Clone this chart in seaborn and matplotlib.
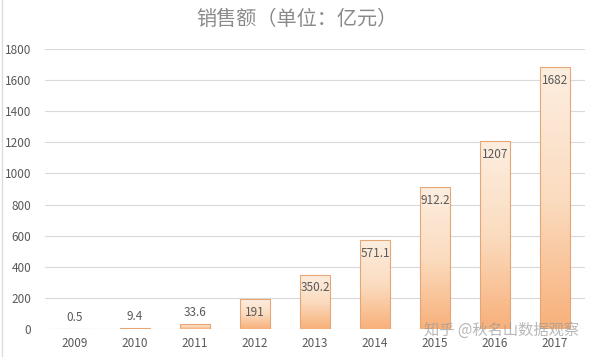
import numpy as np
import pandas as pd
import matplotlib
matplotlib.use("Agg")
import matplotlib.pyplot as plt
import seaborn as sns
from matplotlib.colors import LinearSegmentedColormap
from matplotlib.lines import Line2D

years = ["2009", "2010", "2011", "2012", "2013", "2014", "2015", "2016", "2017"]
sales = [0.5, 9.4, 33.6, 191, 350.2, 571.1, 912.2, 1207, 1682]
label_texts = ["0.5", "9.4", "33.6", "191", "350.2", "571.1", "912.2", "1207", "1682"]
y_ticks = [0, 200, 400, 600, 800, 1000, 1200, 1400, 1600, 1800]
title = "销售额（单位：亿元）"
watermark = "知乎 @秋名山数据观察"

sns.set_theme(style="white")
plt.rcParams['font.family'] = ['Noto Sans CJK SC', 'DejaVu Sans']

df = pd.DataFrame({"year": years, "sales": sales})

fig = plt.figure(figsize=(5.94, 3.57), dpi=100)
ax = fig.add_axes([0.0758, 0.0784, 0.9092, 0.7843])

sns.barplot(data=df, x="year", y="sales", ax=ax, width=0.5,
            color="#F9C08F", edgecolor="#E6A574", linewidth=0.8, zorder=3)

ax.set_ylim(0, 1800)
ax.set_yticks(y_ticks)
ax.set_xlim(-0.5, len(years) - 0.5)
ax.yaxis.grid(True, color="#D9D9D9", linewidth=0.8, zorder=0)
ax.xaxis.grid(False)
for s in ax.spines.values():
    s.set_visible(False)
ax.set_xlabel("")
ax.set_ylabel("")
ax.tick_params(axis="y", length=0, pad=10, labelsize=8.5, labelcolor="#595959")
ax.tick_params(axis="x", length=0, pad=6, labelsize=8.5, labelcolor="#595959")

# gradient fill per bar
cmap = LinearSegmentedColormap.from_list("grad", ["#FDEEE0", "#FBDCC0", "#F8B07A"])
grad = np.linspace(0, 1, 256).reshape(-1, 1)
for p in ax.patches:
    x0, y0 = p.get_x(), p.get_y()
    w, h = p.get_width(), p.get_height()
    if h <= 0:
        continue
    p.set_facecolor("none")
    im = ax.imshow(grad, cmap=cmap, aspect="auto", origin="upper",
                   extent=[x0, x0 + w, y0, y0 + h], zorder=2.5,
                   interpolation="bicubic")
    im.set_clip_path(p)

ax.set_xlim(-0.5, len(years) - 0.5)
ax.set_ylim(0, 1800)

# labels
for p, txt in zip(ax.patches, label_texts):
    cx = p.get_x() + p.get_width() / 2
    top = p.get_height()
    if top < 150:
        ax.annotate(txt, (cx, top), xytext=(0, 8), textcoords="offset points",
                    ha="center", va="center", fontsize=8.5, color="#595959", zorder=5)
    else:
        ax.annotate(txt, (cx, top), xytext=(0, -9.5), textcoords="offset points",
                    ha="center", va="center", fontsize=8.5, color="#595959", zorder=5)

fig.text(0.5, 0.945, title, ha="center", va="center", fontsize=14.5, color="#8A8A8A")
fig.text(0.845, 0.075, watermark, ha="center", va="center", fontsize=11,
         color="#9A9A9A", alpha=0.7, zorder=10)
fig.add_artist(Line2D([0.004, 0.004], [0.0, 1.0], color="#DDDDDD", linewidth=1))

fig.savefig("out.png", dpi=100)
